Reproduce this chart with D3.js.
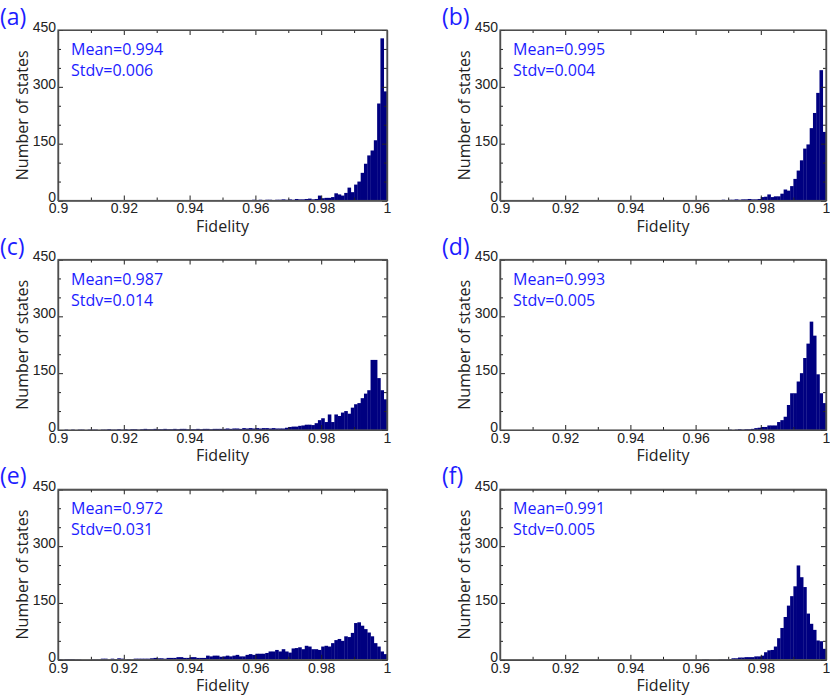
<!DOCTYPE html>
<html>
<head>
    <script src="https://d3js.org/d3.v7.min.js"></script>
    <style type="text/css">
        body { margin: 0; background: #fff; }
        .tick text { font-family: "Liberation Sans", Arial, sans-serif; font-size: 14px; fill: #222; }
        .ttl { font-family: "Open Sans", "Noto Sans", sans-serif; font-size: 16px; fill: #222; }
        .stat { font-family: "Open Sans", "Noto Sans", sans-serif; font-size: 16px; fill: #1c1cff; }
        .lbl { font-family: "Open Sans", "Noto Sans", sans-serif; font-size: 23px; fill: #1c1cff; }
    </style>
</head>
<body>
    <script type="text/javascript">

        // panel letters and the stats printed in each one
        var panelNames = ["(a)", "(b)", "(c)", "(d)", "(e)", "(f)"];
        var means = ["0.994", "0.995", "0.987", "0.993", "0.972", "0.991"];
        var stdvs = ["0.006", "0.004", "0.014", "0.005", "0.031", "0.005"];

        // histogram bins: 100 bins of width 0.001 starting at 0.9
        var binStart = 0.9;
        var binWidth = 0.001;

        // counts per bin
        var countsA = [0,0,0,0,0,0,0,0,0,0, 0,0,0,0,0,0,0,0,0,0, 0,0,0,0,0,0,0,0,0,0,
                       0,0,0,0,0,0,0,0,0,0, 0,0,0,0,0,0,0,0,0,0, 0,0,0,0,0,0,0,
                       1,1,2,1,2,1,2,2,1,2,2,3,2,3,2,4,3,3,4,5,
                       3,4,13,6,7,7,9,19,16,13,20,34,22,42,50,73,97,119,132,159,256,428,288];
        var countsB = [0,0,0,0,0,0,0,0,0,0, 0,0,0,0,0,0,0,0,0,0, 0,0,0,0,0,0,0,0,0,0,
                       0,0,0,0,0,0,0,0,0,0, 0,0,0,0,0,0,0,0,0,0, 0,0,0,0,0,0,0,0,0,0,
                       0,1,0,1,1,0,1,1,2,1,2,2,3,2,3,3,4,3,
                       3,4,9,10,16,9,11,11,18,29,26,38,57,79,106,137,148,191,231,284,344,181];
        var countsC = [0,0,1,0,1,0,1,1,0,1, 1,1,0,1,1,2,1,1,2,1, 2,1,2,2,1,2,3,2,2,3,
                       2,2,3,2,2,3,2,3,3,2, 2,2,3,2,3,3,2,3,3,3, 3,4,3,4,4,3,5,4,5,4,
                       5,4,5,5,4,5,4,
                       4,4,6,8,9,9,11,12,14,14,13,18,26,31,21,41,21,41,37,46,50,43,59,68,71,84,96,105,185,185,137,105,81];
        var countsD = [0,0,0,0,0,0,0,0,0,0, 0,0,0,0,0,0,0,0,0,0, 0,0,0,0,0,0,0,0,0,0,
                       0,0,0,0,0,0,0,0,0,0, 0,0,0,0,0,0,0,0,0,0, 0,0,0,0,0,0,0,0,0,0,
                       0,0,0,0,0,0,0,0,0,0,
                       1,0,1,2,1,2,2,3,
                       5,6,8,8,12,12,12,21,26,35,66,97,97,128,150,190,228,286,249,147,97,71];
        var countsE = [2,1,2,2,2,1,1,0,0,0, 1,1,1,3,3,1,3,2,4,3, 1,2,1,3,3,3,3,3,4,5,
                       4,4,3,5,5,5,7,7,5,5, 7,7,5,5,5,11,9,11,11,8, 9,11,9,11,13,9,9,13,15,13,
                       16,16,16,18,22,22,26,22,28,22, 19,30,31,33,28,37,35,28,28,26,
                       35,37,35,44,52,55,50,62,60,71, 97,99,90,81,72,62,44,35,22,15];
        var countsF = [0,0,0,0,0,0,0,0,0,0, 0,0,0,0,0,0,0,0,0,0, 0,0,0,0,0,0,0,0,0,0,
                       0,0,0,0,0,0,0,0,0,0, 0,0,0,0,0,0,0,0,0,0, 0,0,0,0,0,0,0,0,0,0,
                       0,0,1,1,0,0,0,1,1,1,2,
                       4,4,6,6,7,7,7,9,9,11,20,25,26,35,57,84,113,143,168,194,249,218,192,122,95,79,51,49,29];
        var allCounts = [countsA, countsB, countsC, countsD, countsE, countsF];

        // axis ticks
        var xTicks = [0.9, 0.92, 0.94, 0.96, 0.98, 1];
        var xTickLabels = ["0.9", "0.92", "0.94", "0.96", "0.98", "1"];
        var xMinor = [0.91, 0.93, 0.95, 0.97, 0.99];
        var yTicks = [0, 150, 300, 450];
        var yTickLabels = ["0", "150", "300", "450"];
        var yMinor = [50, 100, 200, 250, 350, 400];

        var w = 830, h = 695;
        var colLeft = [58, 500];
        var colWidth = [329, 326];
        var rowTop = [30, 259.5, 489.3];
        var ph = 170.5;

        var svg = d3.select("body").append("svg")
            .attr("width", w)
            .attr("height", h);

        allCounts.forEach(function(counts, k) {
            var col = k % 2, row = Math.floor(k / 2);
            var pw = colWidth[col];
            var g = svg.append("g")
                .attr("transform", "translate(" + colLeft[col] + "," + rowTop[row] + ")");

            var x = d3.scaleLinear().domain([0.9, 1]).range([0, pw]);
            var y = d3.scaleLinear().domain([0, 450]).range([ph, 0]);

            // bars
            g.append("g").selectAll("rect")
                .data(counts)
                .enter()
                .append("rect")
                .attr("x", function(d, i) { return x(binStart + i * binWidth); })
                .attr("width", function(d, i) { return x(binStart + (i + 1) * binWidth) - x(binStart + i * binWidth) + 0.3; })
                .attr("y", function(d) { return y(d); })
                .attr("height", function(d) { return ph - y(d); })
                .attr("fill", "#000080");

            // axes, ticks pointing inward
            var fmtX = function(d) { return xTickLabels[xTicks.indexOf(d)]; };
            var fmtY = function(d) { return yTickLabels[yTicks.indexOf(d)]; };

            g.append("g").attr("transform", "translate(0," + ph + ")")
                .call(d3.axisBottom(x).tickValues(xTicks).tickFormat(fmtX).tickSizeInner(-5).tickSizeOuter(0).tickPadding(3));
            g.append("g").attr("transform", "translate(0," + ph + ")")
                .call(d3.axisBottom(x).tickValues(xMinor).tickFormat("").tickSizeInner(-3).tickSizeOuter(0));
            g.append("g")
                .call(d3.axisTop(x).tickValues(xTicks).tickFormat("").tickSizeInner(-5).tickSizeOuter(0));
            g.append("g")
                .call(d3.axisTop(x).tickValues(xMinor).tickFormat("").tickSizeInner(-3).tickSizeOuter(0));

            g.append("g")
                .call(d3.axisLeft(y).tickValues(yTicks).tickFormat(fmtY).tickSizeInner(-5).tickSizeOuter(0).tickPadding(2))
                .selectAll("text").attr("dy", "0.1em");
            g.append("g")
                .call(d3.axisLeft(y).tickValues(yMinor).tickFormat("").tickSizeInner(-3).tickSizeOuter(0));
            g.append("g").attr("transform", "translate(" + pw + ",0)")
                .call(d3.axisRight(y).tickValues(yTicks).tickFormat("").tickSizeInner(-5).tickSizeOuter(0));
            g.append("g").attr("transform", "translate(" + pw + ",0)")
                .call(d3.axisRight(y).tickValues(yMinor).tickFormat("").tickSizeInner(-3).tickSizeOuter(0));

            g.selectAll(".tick line").attr("stroke", "#222");
            g.selectAll(".domain").attr("stroke", "#444").attr("stroke-width", 1.2);

            // frame
            g.append("rect")
                .attr("width", pw).attr("height", ph)
                .attr("fill", "none")
                .attr("stroke", "#555")
                .attr("stroke-width", 1.2);

            // titles
            g.append("text").attr("class", "ttl")
                .attr("x", pw / 2).attr("y", ph + 31)
                .attr("text-anchor", "middle")
                .text("Fidelity");
            g.append("text").attr("class", "ttl")
                .attr("transform", "translate(-30," + (ph / 2) + ") rotate(-90)")
                .attr("text-anchor", "middle")
                .text("Number of states");

            g.append("text").attr("class", "stat")
                .attr("x", 13).attr("y", 25)
                .text("Mean=" + means[k]);
            g.append("text").attr("class", "stat")
                .attr("x", 13).attr("y", 46)
                .text("Stdv=" + stdvs[k]);

            g.append("text").attr("class", "lbl")
                .attr("x", -58).attr("y", -5)
                .text(panelNames[k]);
        });

    </script>
</body>
</html>
